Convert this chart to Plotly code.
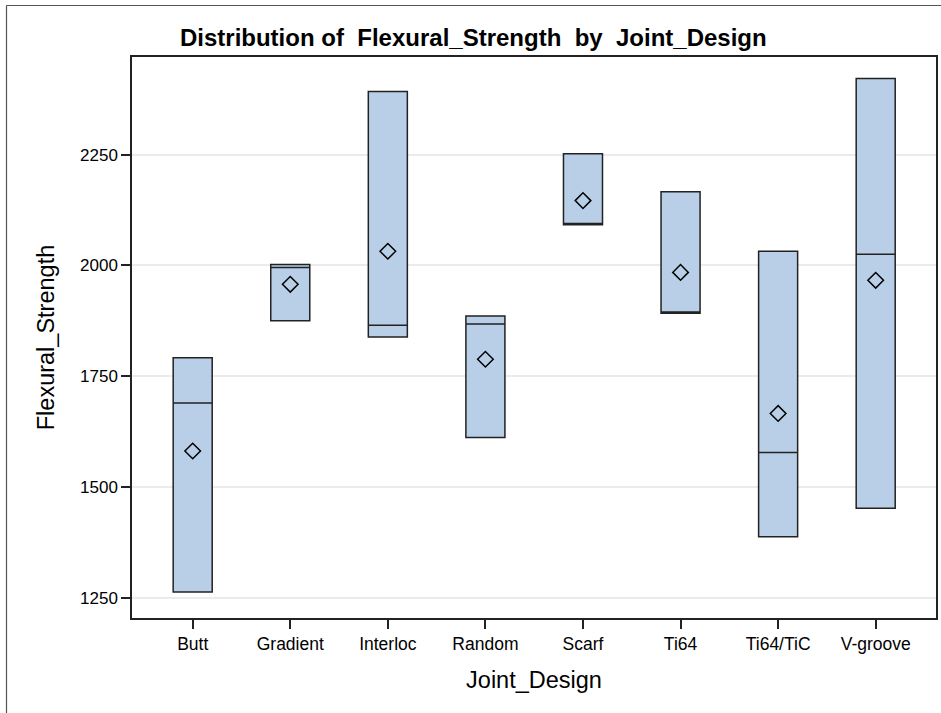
import numpy as np
import plotly.graph_objects as go

# Joint design groups and their three flexural-strength observations (MPa)
designs = ["Butt", "Gradient", "Interloc", "Random", "Scarf", "Ti64", "Ti64/TiC", "V-groove"]
obs_1 = [1263.5, 1875.0, 1838.5, 1612.0, 2092.0, 1892.0, 1388.3, 1452.2]
obs_2 = [1689.6, 1995.5, 1865.4, 1867.7, 2094.5, 1895.0, 1578.4, 2025.5]
obs_3 = [1791.7, 2002.0, 2392.0, 1885.7, 2252.0, 2166.0, 2032.2, 2421.5]

y_ticks = [1250, 1500, 1750, 2000, 2250]

FONT = "Arial, Liberation Sans, Helvetica, sans-serif"
BOX_FILL = "#b8cfe7"
EDGE = "#222222"

x_vals, y_vals = [], []
for d, a, b, c in zip(designs, obs_1, obs_2, obs_3):
    for v in (a, b, c):
        x_vals.append(d)
        y_vals.append(v)

means = np.mean(np.array([obs_1, obs_2, obs_3]), axis=0)

fig = go.Figure()
fig.add_trace(go.Box(
    x=x_vals, y=y_vals,
    quartilemethod="exclusive",
    boxpoints=False,
    fillcolor=BOX_FILL,
    line=dict(color=EDGE, width=1.5),
    width=0.4,
    whiskerwidth=0.5,
    showlegend=False,
    hoverinfo="skip",
))
fig.add_trace(go.Scatter(
    x=designs, y=means,
    mode="markers",
    marker=dict(symbol="diamond-open", size=12, color="black", line=dict(width=1.5, color="black")),
    showlegend=False,
    hoverinfo="skip",
))

# outer graph border (left and top edges)
L, T, PW, PH = 132, 57, 804, 561
def px(xp):
    return (xp - L) / PW
def py(yp):
    return (T + PH - yp) / PH

fig.add_shape(type="line", xref="paper", yref="paper",
              x0=px(6.5), x1=px(6.5), y0=py(5.5), y1=py(713),
              line=dict(color="#555555", width=1.2))
fig.add_shape(type="line", xref="paper", yref="paper",
              x0=px(6.5), x1=px(945), y0=py(5.5), y1=py(5.5),
              line=dict(color="#555555", width=1.2))

fig.update_layout(
    width=941, height=713,
    margin=dict(l=L, r=941 - L - PW, t=T, b=713 - T - PH, autoexpand=False),
    paper_bgcolor="white",
    plot_bgcolor="white",
    font=dict(family=FONT, color="black", size=17.5),
    title=dict(
        text="<b>Distribution of\u00a0 Flexural_Strength\u00a0 by\u00a0 Joint_Design</b>",
        font=dict(family=FONT, size=24, color="black"),
        xref="container", x=0.503, xanchor="center",
        yref="container", y=1 - 38 / 713, yanchor="middle",
    ),
    xaxis=dict(
        type="category",
        categoryorder="array", categoryarray=designs,
        range=[-0.622, 7.618],
        showline=True, mirror=True, linecolor=EDGE, linewidth=1.5,
        ticks="outside", ticklen=9, tickwidth=1.5, tickcolor=EDGE,
        showgrid=False, zeroline=False,
        tickfont=dict(size=17.5),
        title=dict(text="Joint_Design", font=dict(size=23.5), standoff=19),
    ),
    yaxis=dict(
        range=[1205, 2470],
        tickvals=y_ticks,
        showline=True, mirror=True, linecolor=EDGE, linewidth=1.5,
        ticks="outside", ticklen=9, tickwidth=1.5, tickcolor=EDGE,
        showgrid=True, gridcolor="#ebebeb", gridwidth=1.5,
        zeroline=False,
        tickfont=dict(size=17),
        title=dict(text="Flexural_Strength", font=dict(size=23.5), standoff=19),
    ),
)

fig.write_html("out.html")
